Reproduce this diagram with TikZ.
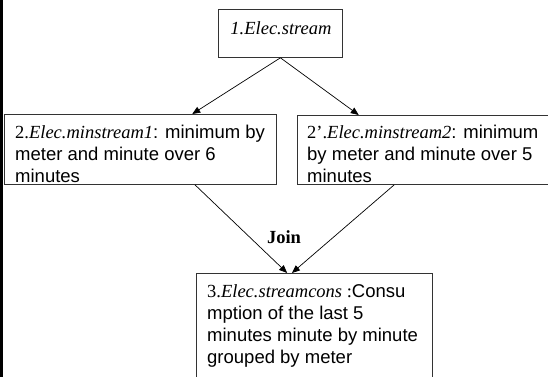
\documentclass[tikz,border=0pt]{standalone}
\usepackage{fontspec}
\setmainfont{Liberation Serif}
\setsansfont{Liberation Sans}
\usetikzlibrary{arrows.meta,calc}
\tikzset{
  boxshape/.style={draw=black!80, line width=0.8pt, rectangle, inner sep=0pt, anchor=north west},
  txt/.style={anchor=base west, inner sep=0pt, font=\fontsize{18.5}{22}\selectfont},
  arr/.style={draw=black, line width=0.7pt, -{Triangle[length=8pt,width=6.5pt]}},
}
\newcommand{\boxtext}[2]{\parbox[t]{#1}{\raggedright\fontsize{18.5}{22}\selectfont\sffamily #2}}
\begin{document}
\begin{tikzpicture}[x=1pt,y=-1pt]
\useasboundingbox (0,0) rectangle (548,376);
\fill[white] (0,0) rectangle (548,376);
% thick left rule
\draw[line width=3pt, black] (1.5,-2) -- (1.5,380);
% boxes
\node[boxshape, minimum width=124pt, minimum height=48pt] (b1) at (218,9) {};
\node[boxshape, minimum width=272pt, minimum height=70pt] (b2) at (4,114) {};
\node[boxshape, minimum width=262pt, minimum height=69pt] (b2p) at (297,115) {};
\node[boxshape, minimum width=236pt, minimum height=110pt] (b3) at (196,273) {};
% texts
\node[anchor=base, inner sep=0pt, font=\fontsize{18.5}{22}\selectfont\itshape] (t1) at (281,34) {1.Elec.stream};
\node[txt] (t2) at (15,138) {\boxtext{262pt}{{\rmfamily 2.\textit{Elec.minstream1}}: minimum by\\meter and minute over 6\\minutes}};
\node[txt] (t2p) at (307,138) {\boxtext{250pt}{{\rmfamily 2’.\textit{Elec.minstream2}}: minimum\\by meter and minute over 5\\minutes}};
\node[txt] (t3) at (207,297) {\boxtext{225pt}{{\rmfamily 3.\textit{Elec.streamcons} :}Consu\\mption of the last 5\\minutes minute by minute\\grouped by meter}};
\node[anchor=base, inner sep=0pt, font=\fontsize{18.5}{22}\selectfont\bfseries] (join) at (284,243) {Join};
% arrows
\draw[arr] (b1.south) -- ($(b2.north west)!0.69!(b2.north east)$);
\draw[arr] (b1.south) -- ($(b2p.north west)!0.235!(b2p.north east)$);
\draw[arr] ($(b2.south west)!0.70!(b2.south east)$) -- ($(b3.north west)!0.385!(b3.north east)$);
\draw[arr] ($(b2p.south west)!0.37!(b2p.south east)$) -- ($(b3.north west)!0.405!(b3.north east)$);
\end{tikzpicture}
\end{document}
